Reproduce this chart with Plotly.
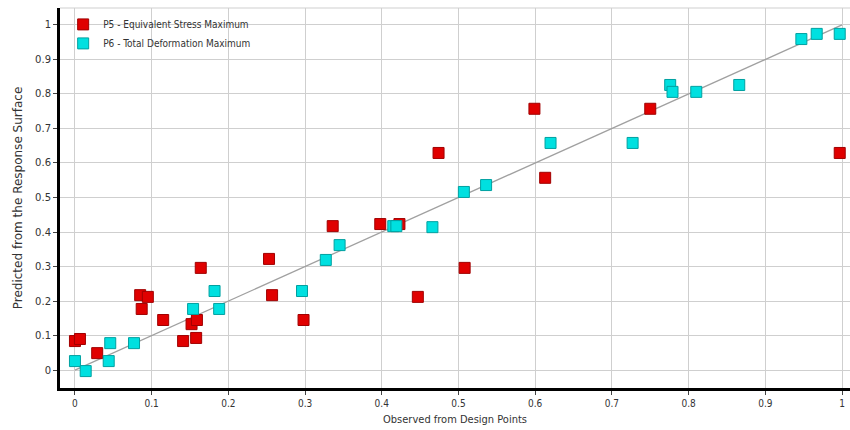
import plotly.graph_objects as go

p5_obs = [0.0, 0.0065, 0.029, 0.085, 0.087, 0.095, 0.115, 0.141, 0.152, 0.158, 0.159, 0.164,
          0.253, 0.257, 0.298, 0.336, 0.398, 0.423, 0.447, 0.474, 0.508, 0.599, 0.613, 0.75, 0.997]
p5_pred = [0.084, 0.090, 0.049, 0.217, 0.177, 0.212, 0.145, 0.084, 0.133, 0.093, 0.145, 0.296,
           0.322, 0.217, 0.145, 0.417, 0.423, 0.423, 0.212, 0.629, 0.296, 0.757, 0.557, 0.757, 0.629]

p6_obs = [0.0, 0.014, 0.046, 0.044, 0.077, 0.154, 0.182, 0.188, 0.296, 0.327, 0.345, 0.415,
          0.419, 0.466, 0.507, 0.536, 0.62, 0.727, 0.776, 0.779, 0.81, 0.866, 0.947, 0.967, 0.997]
p6_pred = [0.026, -0.003, 0.078, 0.026, 0.078, 0.177, 0.229, 0.177, 0.229, 0.319, 0.362, 0.417,
           0.417, 0.414, 0.516, 0.536, 0.658, 0.658, 0.826, 0.806, 0.806, 0.826, 0.959, 0.974, 0.974]

ref_line = [0, 1]
tick_vals = [0, 0.1, 0.2, 0.3, 0.4, 0.5, 0.6, 0.7, 0.8, 0.9, 1]
tick_text = ["0", "0.1", "0.2", "0.3", "0.4", "0.5", "0.6", "0.7", "0.8", "0.9", "1"]

fig = go.Figure()
fig.add_trace(go.Scatter(x=ref_line, y=ref_line, mode="lines",
                         line=dict(color="#a0a0a0", width=1.3), showlegend=False, hoverinfo="skip"))
fig.add_trace(go.Scatter(x=p5_obs, y=p5_pred, mode="markers", name="P5 - Equivalent Stress Maximum",
                         marker=dict(symbol="square", size=11, color="#e00000",
                                     line=dict(color="#a00000", width=1))))
fig.add_trace(go.Scatter(x=p6_obs, y=p6_pred, mode="markers", name="P6 - Total Deformation Maximum",
                         marker=dict(symbol="square", size=11, color="#00e0e0",
                                     line=dict(color="#00a0a0", width=1))))

fig.update_layout(
    width=850, height=430,
    margin=dict(l=60, r=0, t=8, b=42),
    paper_bgcolor="white", plot_bgcolor="white",
    font=dict(family="DejaVu Sans Condensed, DejaVu Sans", size=10, color="#333333"),
    legend=dict(x=0.004, y=0.995, xanchor="left", yanchor="top", bgcolor="rgba(0,0,0,0)",
                font=dict(size=10, family="DejaVu Sans Condensed, DejaVu Sans", color="#333333"),
                itemwidth=30, tracegroupgap=0),
    xaxis=dict(range=[-0.0195, 1.0104], tickvals=tick_vals, ticktext=tick_text,
               showgrid=True, gridcolor="#cfcfcf", gridwidth=1, zeroline=False,
               showline=True, linecolor="black", linewidth=3,
               ticks="outside", ticklen=4, tickcolor="#444444",
               title=dict(text="Observed from Design Points", standoff=8,
                          font=dict(size=11, family="DejaVu Sans Condensed, DejaVu Sans", color="#333333"))),
    yaxis=dict(range=[-0.052, 1.049], tickvals=tick_vals, ticktext=tick_text,
               showgrid=True, gridcolor="#cfcfcf", gridwidth=1, zeroline=False,
               showline=True, linecolor="black", linewidth=3,
               ticks="outside", ticklen=4, tickcolor="#444444",
               tickfont=dict(family="DejaVu Sans", size=10),
               title=dict(text="Predicted from the Response Surface", standoff=10,
                          font=dict(size=12, family="DejaVu Sans", color="#333333"))),
)
fig.add_shape(type="line", xref="paper", yref="paper", x0=0, x1=1, y0=1, y1=1,
              line=dict(color="#cfcfcf", width=1))

fig.write_html("out.html")
